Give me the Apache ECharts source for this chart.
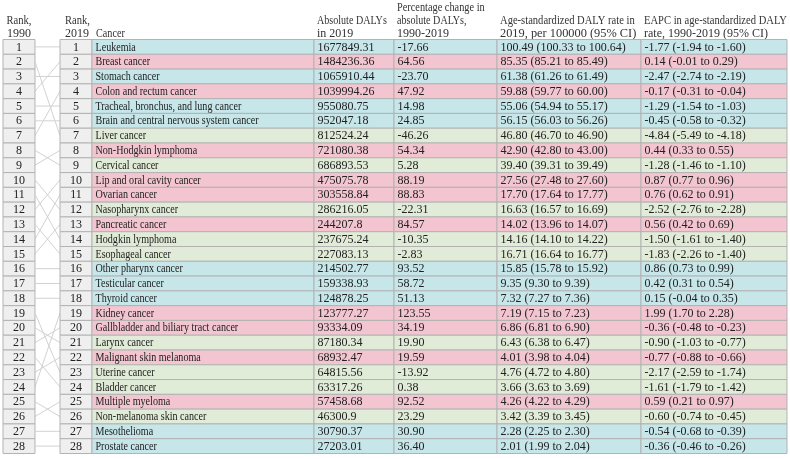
<!DOCTYPE html>
<html><head><meta charset="utf-8">
<script src="https://cdn.jsdelivr.net/npm/echarts@6/dist/echarts.min.js"></script>
<style>html,body{margin:0;padding:0;background:#fff}#c{width:790px;height:459px}</style>
</head><body><div id="c"></div>
<script>
// ---------- DATA ----------
const cancers = ["Leukemia","Breast cancer","Stomach cancer","Colon and rectum cancer","Tracheal, bronchus, and lung cancer","Brain and central nervous system cancer","Liver cancer","Non-Hodgkin lymphoma","Cervical cancer","Lip and oral cavity cancer","Ovarian cancer","Nasopharynx cancer","Pancreatic cancer","Hodgkin lymphoma","Esophageal cancer","Other pharynx cancer","Testicular cancer","Thyroid cancer","Kidney cancer","Gallbladder and biliary tract cancer","Larynx cancer","Malignant skin melanoma","Uterine cancer","Bladder cancer","Multiple myeloma","Non-melanoma skin cancer","Mesothelioma","Prostate cancer"];
const rank2019 = [1,2,3,4,5,6,7,8,9,10,11,12,13,14,15,16,17,18,19,20,21,22,23,24,25,26,27,28];
const rank1990 = [1,4,3,7,5,6,2,9,8,12,14,10,15,11,13,16,17,18,24,21,20,23,19,22,26,25,27,28];
const absDALYs = ["1677849.31","1484236.36","1065910.44","1039994.26","955080.75","952047.18","812524.24","721080.38","686893.53","475075.78","303558.84","286216.05","244207.8","237675.24","227083.13","214502.77","159338.93","124878.25","123777.27","93334.09","87180.34","68932.47","64815.56","63317.26","57458.68","46300.9","30790.37","27203.01"];
const pctChange = ["-17.66","64.56","-23.70","47.92","14.98","24.85","-46.26","54.34","5.28","88.19","88.83","-22.31","84.57","-10.35","-2.83","93.52","58.72","51.13","123.55","34.19","19.90","19.59","-13.92","0.38","92.52","23.29","30.90","36.40"];
const asr = ["100.49 (100.33 to 100.64)","85.35 (85.21 to 85.49)","61.38 (61.26 to 61.49)","59.88 (59.77 to 60.00)","55.06 (54.94 to 55.17)","56.15 (56.03 to 56.26)","46.80 (46.70 to 46.90)","42.90 (42.80 to 43.00)","39.40 (39.31 to 39.49)","27.56 (27.48 to 27.60)","17.70 (17.64 to 17.77)","16.63 (16.57 to 16.69)","14.02 (13.96 to 14.07)","14.16 (14.10 to 14.22)","16.71 (16.64 to 16.77)","15.85 (15.78 to 15.92)","9.35 (9.30 to 9.39)","7.32 (7.27 to 7.36)","7.19 (7.15 to 7.23)","6.86 (6.81 to 6.90)","6.43 (6.38 to 6.47)","4.01 (3.98 to 4.04)","4.76 (4.72 to 4.80)","3.66 (3.63 to 3.69)","4.26 (4.22 to 4.29)","3.42 (3.39 to 3.45)","2.28 (2.25 to 2.30)","2.01 (1.99 to 2.04)"];
const eapc = ["-1.77 (-1.94 to -1.60)","0.14 (-0.01 to 0.29)","-2.47 (-2.74 to -2.19)","-0.17 (-0.31 to -0.04)","-1.29 (-1.54 to -1.03)","-0.45 (-0.58 to -0.32)","-4.84 (-5.49 to -4.18)","0.44 (0.33 to 0.55)","-1.28 (-1.46 to -1.10)","0.87 (0.77 to 0.96)","0.76 (0.62 to 0.91)","-2.52 (-2.76 to -2.28)","0.56 (0.42 to 0.69)","-1.50 (-1.61 to -1.40)","-1.83 (-2.26 to -1.40)","0.86 (0.73 to 0.99)","0.42 (0.31 to 0.54)","0.15 (-0.04 to 0.35)","1.99 (1.70 to 2.28)","-0.36 (-0.48 to -0.23)","-0.90 (-1.03 to -0.77)","-0.77 (-0.88 to -0.66)","-2.17 (-2.59 to -1.74)","-1.61 (-1.79 to -1.42)","0.59 (0.21 to 0.97)","-0.60 (-0.74 to -0.45)","-0.54 (-0.68 to -0.39)","-0.36 (-0.46 to -0.26)"];
const headers = [
  ["Rank,","1990"],
  ["Rank,","2019"],
  ["Cancer"],
  ["Absolute DALYs","in 2019"],
  ["Percentage change in","absolute DALYs,","1990-2019"],
  ["Age-standardized DALY rate in","2019, per 100000 (95% CI)"],
  ["EAPC in age-standardized DALY","rate, 1990-2019 (95% CI)"]
];

// ---------- LAYOUT / STYLE ----------
const FONT = '12px "Liberation Serif", "DejaVu Serif", serif';
const TXT = '#222';
const COL = { lb0: 3, lb1: 35, rb0: 60, rb1: 92, c0: 92, c1: 314, c2: 394, c3: 497, c4: 641, c5: 787 };
const C_SAME = '#c6e6e9', C_UP = '#f3c5d0', C_DOWN = '#e1ecd8';
const GRID_TOP = 39.5, GRID_BOTTOM = 5.5;
const NAME_SX = 0.84;
// horizontal condensing for letter-heavy header lines
const headerSX = [[0.88,1],[0.88,1],[0.85],[0.84,1],[0.86,0.84,1],[0.88,1.03],[0.88,1]];

const chart = echarts.init(document.getElementById('c'), null, {renderer: 'canvas'});

function renderItem(params, api) {
  const i = params.dataIndex;
  const cy = api.coord([0, i])[1];
  const h = api.size([0, 1])[1];
  const top = cy - h / 2;
  const X = v => api.coord([v, i])[0];
  const yL = api.coord([0, rank1990[i] - 1])[1];
  const diff = rank1990[i] - rank2019[i];
  const fill = diff === 0 ? C_SAME : (diff > 0 ? C_UP : C_DOWN);
  const border = '#b3b3b3';
  const kids = [];
  kids.push({type:'rect', shape:{x:X(COL.lb0), y:top, width:X(COL.lb1)-X(COL.lb0), height:h}, style:{fill:'#efefef', stroke:border, lineWidth:1}});
  kids.push({type:'text', style:{text:String(rank2019[i]), x:(X(COL.lb0)+X(COL.lb1))/2, y:cy+0.5, align:'center', verticalAlign:'middle', font:FONT, fill:TXT}});
  kids.push({type:'line', shape:{x1:X(COL.lb1), y1:yL, x2:X(COL.rb0), y2:cy}, style:{stroke:'#d2d2d2', lineWidth:1}});
  kids.push({type:'rect', shape:{x:X(COL.rb0), y:top, width:X(COL.rb1)-X(COL.rb0), height:h}, style:{fill:'#efefef', stroke:border, lineWidth:1}});
  kids.push({type:'text', style:{text:String(rank2019[i]), x:(X(COL.rb0)+X(COL.rb1))/2, y:cy+0.5, align:'center', verticalAlign:'middle', font:FONT, fill:TXT}});
  const edges = [COL.c0, COL.c1, COL.c2, COL.c3, COL.c4, COL.c5];
  const texts = [cancers[i], absDALYs[i], pctChange[i], asr[i], eapc[i]];
  for (let k = 0; k < 5; k++) {
    kids.push({type:'rect', shape:{x:X(edges[k]), y:top, width:X(edges[k+1])-X(edges[k]), height:h}, style:{fill:fill, stroke:border, lineWidth:1}});
    kids.push({type:'text', x:X(edges[k])+3.5, y:cy+0.5, scaleX:(k===0?NAME_SX:1),
      style:{text:texts[k], x:0, y:0, align:'left', verticalAlign:'middle', font:FONT, fill:TXT}});
  }
  return {type:'group', children:kids};
}

const headerGraphics = [];
const hdrX = [
  {x:19, align:'center'}, {x:65, align:'left'}, {x:96, align:'left'}, {x:317, align:'left'},
  {x:397, align:'left'}, {x:500, align:'left'}, {x:644, align:'left'}
];
const lineY = [7.5, 21, 34];
headers.forEach((lines, k) => {
  lines.forEach((t, j) => {
    const yIdx = 3 - lines.length + j;
    headerGraphics.push({type:'text', x:hdrX[k].x, y:lineY[yIdx], scaleX:headerSX[k][j],
      style:{text:t, x:0, y:0, font:FONT, fill:'#333', align:hdrX[k].align, verticalAlign:'middle'}});
  });
});

chart.setOption({
  animation:false,
  backgroundColor:'#ffffff',
  grid:{left:0, right:0, top:GRID_TOP, bottom:GRID_BOTTOM, containLabel:false},
  xAxis:{type:'value', min:0, max:790, show:false},
  yAxis:{type:'category', inverse:true, data:cancers, show:false},
  graphic:headerGraphics,
  series:[{
    type:'custom',
    clip:false,
    renderItem:renderItem,
    encode:{x:0, y:1},
    data:cancers.map((c, i) => [0, i])
  }]
});
</script></body></html>
